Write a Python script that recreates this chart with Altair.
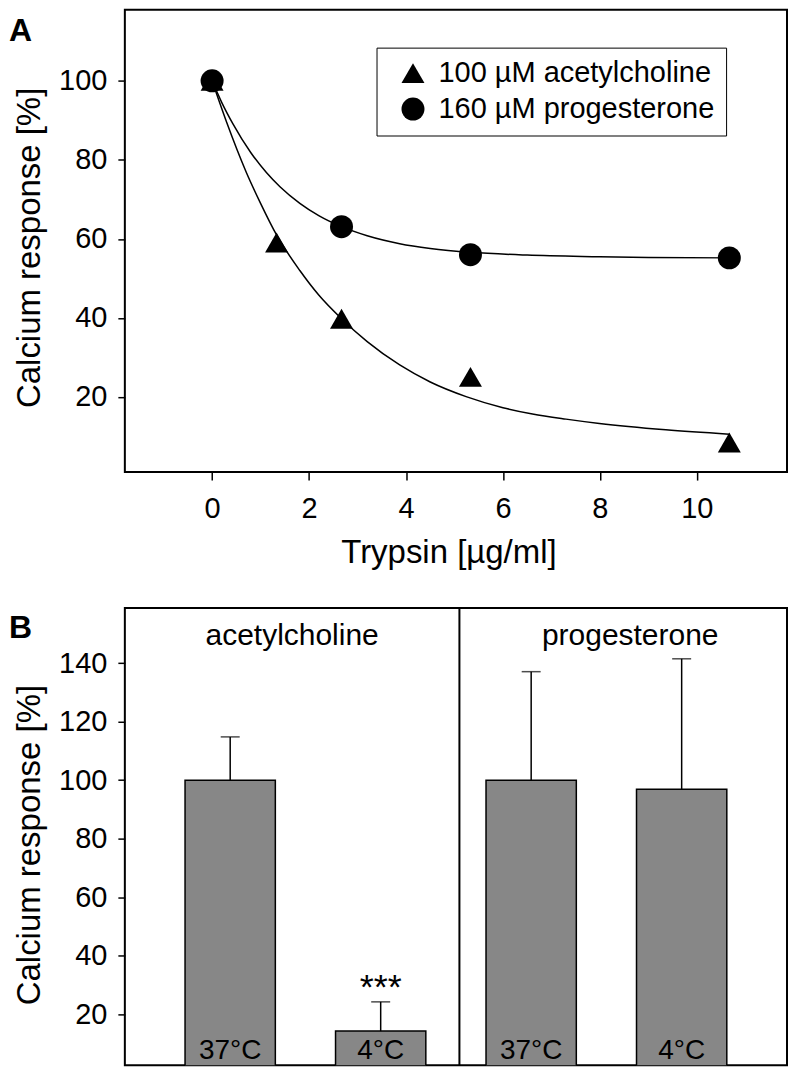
import altair as alt
import pandas as pd

FONT = "Liberation Sans"

# ---------------- Panel A data ----------------
series_names = ["100 µM acetylcholine", "160 µM progesterone"]
ach_x = [0, 1.33, 2.67, 5.33, 10.67]
ach_y = [100, 59.1, 39.8, 25.1, 8.5]
prog_x = [0, 2.67, 5.33, 10.67]
prog_y = [100, 63.1, 56.0, 55.2]

# fitted curves
ach_fit_x = [0, 0.3, 0.7, 1.0, 1.33, 1.81, 2.2, 2.67, 3.2, 3.87, 4.5, 5.24, 6.0, 6.61, 7.3, 7.99, 9.36, 10.67]
ach_fit_y = [100, 89.5, 77, 69, 61, 52, 45.8, 39.8, 34, 28.1, 23.8, 20.1, 17.3, 15.7, 14.4, 13.3, 11.7, 10.6]
prog_fit_x = [0, 0.2, 0.43, 0.8, 1.12, 1.4, 1.81, 2.2, 2.67, 3.2, 3.87, 4.5, 5.34, 6.5, 7.99, 9.0, 10.67]
prog_fit_y = [100, 94.5, 89.1, 81.8, 76.8, 73.2, 69.0, 65.9, 63.1, 60.8, 58.8, 57.6, 56.6, 55.9, 55.5, 55.3, 55.2]

x_ticks_a = [0, 2, 4, 6, 8, 10]
y_ticks_a = [20, 40, 60, 80, 100]

# ---------------- Panel B data ----------------
compounds = ["acetylcholine", "acetylcholine", "progesterone", "progesterone"]
temps = ["37°C", "4°C", "37°C", "4°C"]
means = [100, 14.2, 100, 96.9]
err_hi = [114.8, 24.2, 137.1, 141.5]
signif = ["", "***", "", ""]
y_ticks_b = [20, 40, 60, 80, 100, 120, 140]

# ---------------- tables ----------------
pts = pd.DataFrame(
    {"series": [series_names[0]] * len(ach_x) + [series_names[1]] * len(prog_x),
     "x": ach_x + prog_x, "y": ach_y + prog_y})
fit = pd.DataFrame(
    {"series": [series_names[0]] * len(ach_fit_x) + [series_names[1]] * len(prog_fit_x),
     "x": ach_fit_x + prog_fit_x, "y": ach_fit_y + prog_fit_y})
cats = [c + " " + t for c, t in zip(compounds, temps)]
bars_df = pd.DataFrame({"cat": cats, "compound": compounds, "temp": temps,
                        "mean": means, "hi": err_hi, "sig": signif})

WA, HA = 663, 463
WB, HB = 663, 458

axis_common = dict(domain=False, tickColor="black", tickWidth=1.5, labelColor="black",
                   labelFont=FONT, labelFontSize=29, titleFont=FONT, titleFontSize=33,
                   titleFontWeight="normal", titleColor="black", grid=False)

xa = alt.X("x:Q", scale=alt.Scale(domain=[-1.8, 11.86], nice=False, zero=False),
           axis=alt.Axis(values=x_ticks_a, title="Trypsin [µg/ml]", tickSize=8, labelPadding=14,
                         titleX=324, titleY=91, titleBaseline="alphabetic", **axis_common))
ya = alt.Y("y:Q", scale=alt.Scale(domain=[1, 118], nice=False, zero=False),
           axis=alt.Axis(values=y_ticks_a, title="Calcium response [%]", tickSize=7, labelPadding=11,
                         titleX=-85, titleY=238, titleAngle=270, titleBaseline="alphabetic",
                         **axis_common))

shape_scale = alt.Scale(domain=series_names, range=["triangle-up", "circle"])

lines = alt.Chart(fit).mark_line(color="black", strokeWidth=1.5, interpolate="monotone").encode(
    x=xa, y=ya, detail="series:N")
points = alt.Chart(pts).mark_point(filled=True, size=530, color="black", opacity=1).encode(
    x=xa, y=ya,
    shape=alt.Shape("series:N", scale=shape_scale,
                    legend=alt.Legend(title=None, orient="none", legendX=252, legendY=38,
                                      fillColor="white", strokeColor="black", padding=11,
                                      symbolSize=530, symbolFillColor="black",
                                      symbolStrokeWidth=0, symbolOffset=11, labelOffset=11,
                                      rowPadding=6, labelFont=FONT, labelFontSize=29,
                                      labelColor="black", labelLimit=400)))
letter_a = alt.Chart(pd.DataFrame({"t": ["A"]})).mark_text(
    font=FONT, fontSize=32, fontWeight="bold", align="left", baseline="alphabetic",
    color="black").encode(text="t:N", x=alt.value(-116), y=alt.value(31))

chart_a = alt.layer(lines, points, letter_a).properties(width=WA, height=HA)

# ---------------- Panel B ----------------
xb = alt.X("cat:N", sort=cats, scale=alt.Scale(paddingInner=0.4, paddingOuter=0.4), axis=None)
yb_scale = alt.Scale(domain=[2.5, 158.9], nice=False, zero=False)
yb = alt.Y("mean:Q", scale=yb_scale,
           axis=alt.Axis(values=y_ticks_b, title="Calcium response [%]", tickSize=7, labelPadding=11,
                         titleX=-85, titleY=237, titleAngle=270, titleBaseline="alphabetic",
                         **axis_common))

bars = alt.Chart(bars_df).mark_bar(color="#878787", stroke="black", strokeWidth=1.5, clip=True).encode(
    x=xb, y=yb)
err = alt.Chart(bars_df).mark_rule(color="black", strokeWidth=1.5).encode(
    x=xb, y=alt.Y("mean:Q", scale=yb_scale), y2="hi:Q")
caps = alt.Chart(bars_df).mark_tick(color="black", size=19, thickness=1.5).encode(
    x=xb, y=alt.Y("hi:Q", scale=yb_scale))
stars = alt.Chart(bars_df).mark_text(font=FONT, fontSize=36, baseline="alphabetic", dy=-3,
                                     color="black").encode(
    x=xb, y=alt.Y("hi:Q", scale=yb_scale), text="sig:N")
temp_labels = alt.Chart(bars_df).mark_text(font=FONT, fontSize=28, baseline="alphabetic",
                                           color="black").encode(
    x=xb, y=alt.value(HB - 6.5), text="temp:N")
lab_ach = alt.Chart(pd.DataFrame({"t": ["acetylcholine"]})).mark_text(
    font=FONT, fontSize=30, baseline="alphabetic", color="black").encode(
    text="t:N", x=alt.value(167.5), y=alt.value(37))
lab_prog = alt.Chart(pd.DataFrame({"t": ["progesterone"]})).mark_text(
    font=FONT, fontSize=30, baseline="alphabetic", color="black").encode(
    text="t:N", x=alt.value(506), y=alt.value(37))
divider = alt.Chart(pd.DataFrame({"d": [0]})).mark_rule(color="black", strokeWidth=2).encode(
    x=alt.value(335), y=alt.value(0), y2=alt.value(HB))
letter_b = alt.Chart(pd.DataFrame({"t": ["B"]})).mark_text(
    font=FONT, fontSize=32, fontWeight="bold", align="left", baseline="alphabetic",
    color="black").encode(text="t:N", x=alt.value(-116), y=alt.value(30))

chart_b = alt.layer(bars, err, caps, stars, temp_labels, lab_ach, lab_prog, divider, letter_b
                    ).properties(width=WB, height=HB)

chart = alt.vconcat(chart_a, chart_b, spacing=136, bounds="flush").resolve_scale(
    x="independent", y="independent").properties(
    padding=0, background="white").configure_view(stroke="black", strokeWidth=2)

chart.save("out.html", embed_options={"renderer": "svg", "actions": False})
